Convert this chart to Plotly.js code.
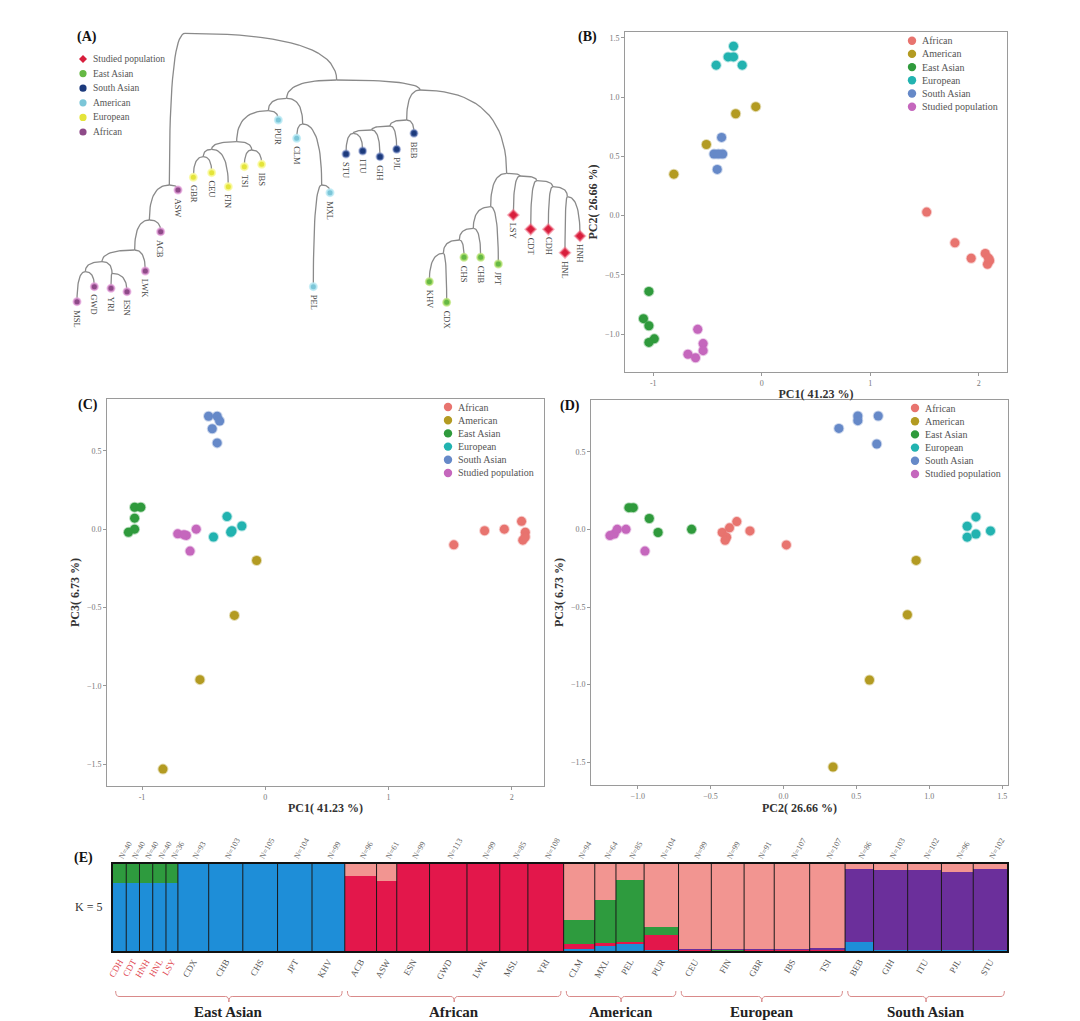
<!DOCTYPE html>
<html><head><meta charset="utf-8">
<script src="https://cdn.plot.ly/plotly-3.0.1.min.js"></script>
<style>html,body{margin:0;padding:0;background:#fff}#chart{width:1080px;height:1021px}</style>
</head><body><div id="chart"></div>
<script>
// ---------------- DATA ----------------
// (A) tree: internal nodes (layout units) and leaves
const treeNodeIds    = ['R','AF1','AF2','AF3','AF4','AF5','AF6','NA','EUAM','P1','EU','EUa','EUb','EUc','AM','AM2','ASIA','SA','SA2','SA3','SA4','ES','ST1','ST2','ST3','ST4','EA1','EA2','EA3','EA4'];
const treeNodeParent = [null,'R','AF1','AF2','AF3','AF4','AF4','R','NA','EUAM','P1','EU','EUa','EU','EUAM','AM','NA','ASIA','SA','SA2','SA3','ASIA','ES','ST1','ST2','ST3','ES','EA1','EA2','EA3'];
const treeNodeX      = [375,328,268,224,126,76,156,830,680,625,530,455,430,575,728,785,1080,1040,990,935,880,1340,1380,1430,1478,1522,1292,1240,1198,1150];
const treeNodeY      = [40,495,600,690,725,755,760,180,235,272,365,388,410,390,312,495,210,300,318,330,340,460,468,482,500,530,560,625,660,700];

const leafNames  = ['MSL','GWD','YRI','ESN','LWK','ACB','ASW','GBR','CEU','FIN','TSI','IBS','PUR','CLM','MXL','PEL','STU','ITU','GIH','PJL','BEB','KHV','CDX','CHS','CHB','JPT','LSY','CDT','CDH','HNL','HNH'];
const leafParent = ['AF5','AF5','AF6','AF6','AF3','AF2','AF1','EUb','EUb','EUa','EUc','EUc','P1','AM','AM2','AM2','SA4','SA4','SA3','SA2','SA','EA4','EA4','EA3','EA2','EA1','ST1','ST2','ST3','ST4','ST4'];
const leafX      = [51,103,153,201,256,302,354,400,455,505,553,605,655,710,810,760,858,908,960,1010,1062,1108,1160,1212,1262,1315,1360,1412,1465,1515,1560];
const leafY      = [845,800,805,815,753,635,510,472,458,500,440,433,300,355,518,800,402,393,410,388,340,785,847,712,712,732,585,628,628,698,648];
const leafGroup  = ['African','African','African','African','African','African','African',
  'European','European','European','European','European',
  'American','American','American','American',
  'South Asian','South Asian','South Asian','South Asian','South Asian',
  'East Asian','East Asian','East Asian','East Asian','East Asian',
  'Studied population','Studied population','Studied population','Studied population','Studied population'];
const treeLegendOrder = ['Studied population','East Asian','South Asian','American','European','African'];

// (B)-(D) PCA coordinates by group
const pcaGroups = ['African','American','East Asian','European','South Asian','Studied population'];
// (B) PC1 vs PC2
const pcB_African_x = [1.52,1.78,1.93,2.06,2.10,2.08,2.09];
const pcB_African_y = [0.03,-0.23,-0.36,-0.32,-0.38,-0.41,-0.36];
const pcB_American_x = [-0.055,-0.24,-0.51,-0.81];
const pcB_American_y = [0.92,0.86,0.60,0.35];
const pcB_EastAsian_x = [-1.04,-1.09,-1.04,-0.99,-1.04];
const pcB_EastAsian_y = [-0.64,-0.87,-0.93,-1.04,-1.07];
const pcB_European_x = [-0.26,-0.42,-0.31,-0.26,-0.18];
const pcB_European_y = [1.43,1.27,1.34,1.34,1.27];
const pcB_SouthAsian_x = [-0.37,-0.44,-0.36,-0.41,-0.40];
const pcB_SouthAsian_y = [0.66,0.52,0.52,0.39,0.52];
const pcB_Studied_x = [-0.59,-0.54,-0.54,-0.68,-0.61];
const pcB_Studied_y = [-0.96,-1.08,-1.14,-1.17,-1.20];
// (C) PC1 vs PC3
const pcC_African_x = [1.53,1.78,1.94,2.08,2.11,2.09,2.11];
const pcC_African_y = [-0.10,-0.01,0.0,0.05,-0.02,-0.07,-0.05];
const pcC_American_x = [-0.07,-0.25,-0.53,-0.83];
const pcC_American_y = [-0.20,-0.55,-0.96,-1.53];
const pcC_EastAsian_x = [-1.06,-1.01,-1.06,-1.06,-1.11];
const pcC_EastAsian_y = [0.14,0.14,0.07,0.0,-0.02];
const pcC_European_x = [-0.31,-0.42,-0.28,-0.19,-0.27];
const pcC_European_y = [0.08,-0.05,-0.02,0.02,-0.01];
const pcC_SouthAsian_x = [-0.46,-0.39,-0.37,-0.43,-0.39];
const pcC_SouthAsian_y = [0.72,0.72,0.69,0.64,0.55];
const pcC_Studied_x = [-0.71,-0.64,-0.56,-0.61,-0.66];
const pcC_Studied_y = [-0.03,-0.04,0.0,-0.14,-0.035];
// (D) PC2 vs PC3
const pcD_African_x = [-0.32,-0.37,-0.42,-0.39,-0.40,-0.23,0.02];
const pcD_African_y = [0.05,0.01,-0.02,-0.05,-0.07,-0.01,-0.10];
const pcD_American_x = [0.91,0.85,0.59,0.34];
const pcD_American_y = [-0.20,-0.55,-0.97,-1.53];
const pcD_EastAsian_x = [-1.06,-1.03,-0.92,-0.86,-0.63];
const pcD_EastAsian_y = [0.14,0.14,0.07,-0.02,0.0];
const pcD_European_x = [1.32,1.26,1.32,1.42,1.26];
const pcD_European_y = [0.08,0.02,-0.03,-0.01,-0.05];
const pcD_SouthAsian_x = [0.38,0.51,0.51,0.65,0.64];
const pcD_SouthAsian_y = [0.65,0.73,0.70,0.73,0.55];
const pcD_Studied_x = [-1.19,-1.16,-1.14,-1.08,-0.95];
const pcD_Studied_y = [-0.04,-0.03,0.0,0.0,-0.14];

// (E) ADMIXTURE K = 5, population means
const popNames = ['CDH','CDT','HNH','HNL','LSY','CDX','CHB','CHS','JPT','KHV','ACB','ASW','ESN','GWD','LWK','MSL','YRI','CLM','MXL','PEL','PUR','CEU','FIN','GBR','IBS','TSI','BEB','GIH','ITU','PJL','STU'];
const popN     = [40,40,40,40,36,93,103,105,104,99,96,61,99,113,99,85,108,94,64,85,104,99,99,91,107,107,86,103,102,96,102];
const popStudied = [true,true,true,true,true,false,false,false,false,false,false,false,false,false,false,false,false,false,false,false,false,false,false,false,false,false,false,false,false,false,false];
const compBlue   = [0.78,0.78,0.78,0.78,0.78,1,1,1,1,1,0,0,0,0,0,0,0,0.02,0.06,0.08,0.01,0,0,0,0,0,0.10,0.01,0.01,0.01,0.01];
const compRed    = [0,0,0,0,0,0,0,0,0,0,0.86,0.80,1,1,1,1,1,0.06,0.03,0.02,0.17,0.01,0.005,0.01,0.01,0.01,0,0,0,0,0];
const compGreen  = [0.22,0.22,0.22,0.22,0.22,0,0,0,0,0,0,0,0,0,0,0,0,0.28,0.50,0.72,0.10,0.005,0.005,0.005,0.005,0.005,0,0,0,0,0];
const compPurple = [0,0,0,0,0,0,0,0,0,0,0,0,0,0,0,0,0,0,0,0,0,0.01,0.01,0.01,0.01,0.015,0.84,0.92,0.92,0.90,0.93];
const compSalmon = [0,0,0,0,0,0,0,0,0,0,0.14,0.20,0,0,0,0,0,0.64,0.41,0.18,0.72,0.975,0.98,0.975,0.975,0.97,0.06,0.07,0.07,0.09,0.06];
const groupNames = ['East Asian','African','American','European','South Asian'];
const groupPopCount = [10,7,4,5,5];

// ---------------- STYLE ----------------
const W = 1080, H = 1021;
const SERIF = "'Liberation Serif', 'DejaVu Serif', serif";
const treeColors = {'Studied population':'#D81E3C','East Asian':'#66B944','South Asian':'#1C3A7C','American':'#7CC6D8','European':'#E4E43A','African':'#8E4A88'};
const treeHalo = {'Studied population':'rgba(240,120,140,0.55)','East Asian':'rgba(190,230,120,0.7)','South Asian':'rgba(120,140,200,0.5)','American':'rgba(190,235,245,0.8)','European':'rgba(250,250,160,0.8)','African':'rgba(230,160,220,0.7)'};
const pcaColors = {'African':'#E8746F','American':'#B39B22','East Asian':'#2F9A3C','European':'#22B3B0','South Asian':'#6689C8','Studied population':'#C567BD'};
const compColors = {blue:'#1E8ED8',red:'#E3174B',green:'#2E9B3E',purple:'#6B2F9B',salmon:'#F29591'};

const px = v => v / W;
const py = v => 1 - v / H;

const traces = [];
const annotations = [];
const shapes = [];

// legend key drawn as a small paper-space shape
function legendKey(cx, cy, r, color, diamond){
  if (diamond) {
    shapes.push({type:'path', xref:'paper', yref:'paper', fillcolor:color, line:{width:0},
      path:`M ${px(cx)},${py(cy-r)} L ${px(cx+r)},${py(cy)} L ${px(cx)},${py(cy+r)} L ${px(cx-r)},${py(cy)} Z`});
  } else {
    shapes.push({type:'circle', xref:'paper', yref:'paper', fillcolor:color, line:{width:0},
      x0:px(cx-r), x1:px(cx+r), y0:py(cy+r), y1:py(cy-r)});
  }
}

// ---------------- (A) TREE ----------------
const nodePos = {};
treeNodeIds.forEach((id,i)=>{ nodePos[id] = [treeNodeX[i], treeNodeY[i]]; });
function curve(p0, p1, xs, ys){
  const cx = p1[0], cy = p0[1];
  for (let i=0;i<=20;i++){
    const t=i/20;
    xs.push((1-t)*(1-t)*p0[0] + 2*(1-t)*t*cx + t*t*p1[0]);
    ys.push((1-t)*(1-t)*p0[1] + 2*(1-t)*t*cy + t*t*p1[1]);
  }
  xs.push(null); ys.push(null);
}
const ex=[], ey=[];
treeNodeIds.forEach((id,i)=>{ if (treeNodeParent[i]) curve(nodePos[treeNodeParent[i]], nodePos[id], ex, ey); });
leafNames.forEach((nm,i)=>{ curve(nodePos[leafParent[i]], [leafX[i], leafY[i]], ex, ey); });
traces.push({type:'scatter', mode:'lines', x:ex, y:ey, xaxis:'x', yaxis:'y',
  line:{color:'#8a8a8a', width:1.3}, hoverinfo:'skip', showlegend:false});

treeLegendOrder.forEach(g=>{
  const idx = leafNames.map((_,i)=>i).filter(i=>leafGroup[i]===g);
  traces.push({type:'scatter', mode:'markers', name:g, xaxis:'x', yaxis:'y',
    x: idx.map(i=>leafX[i]), y: idx.map(i=>leafY[i]), text: idx.map(i=>leafNames[i]),
    marker:{size: g==='Studied population'?8:7, symbol: g==='Studied population'?'diamond':'circle',
      color: treeColors[g], line:{color: treeHalo[g], width:2}},
    showlegend:false, hoverinfo:'text'});
});
leafNames.forEach((nm,i)=>{
  annotations.push({xref:'x', yref:'y', x:leafX[i], y:leafY[i], text:nm, showarrow:false,
    textangle:90, xanchor:'center', yanchor:'top', yshift:-6,
    font:{family:SERIF, size:8.5, color:'#444'}});
});
treeLegendOrder.forEach((g,i)=>{
  const yy = 59 + i*14.6;
  legendKey(83, yy, g==='Studied population'?4:3.6, treeColors[g], g==='Studied population');
  annotations.push({xref:'paper', yref:'paper', x:px(91), y:py(yy), text:g, showarrow:false,
    xanchor:'left', yanchor:'middle', font:{family:SERIF, size:9.5, color:'#555'}});
});

// ---------------- (B)(C)(D) PCA ----------------
const pcaSets = {
  B: {African:[pcB_African_x,pcB_African_y], American:[pcB_American_x,pcB_American_y], 'East Asian':[pcB_EastAsian_x,pcB_EastAsian_y],
      European:[pcB_European_x,pcB_European_y], 'South Asian':[pcB_SouthAsian_x,pcB_SouthAsian_y], 'Studied population':[pcB_Studied_x,pcB_Studied_y]},
  C: {African:[pcC_African_x,pcC_African_y], American:[pcC_American_x,pcC_American_y], 'East Asian':[pcC_EastAsian_x,pcC_EastAsian_y],
      European:[pcC_European_x,pcC_European_y], 'South Asian':[pcC_SouthAsian_x,pcC_SouthAsian_y], 'Studied population':[pcC_Studied_x,pcC_Studied_y]},
  D: {African:[pcD_African_x,pcD_African_y], American:[pcD_American_x,pcD_American_y], 'East Asian':[pcD_EastAsian_x,pcD_EastAsian_y],
      European:[pcD_European_x,pcD_European_y], 'South Asian':[pcD_SouthAsian_x,pcD_SouthAsian_y], 'Studied population':[pcD_Studied_x,pcD_Studied_y]}
};
const pcaAxes = {B:['x2','y2'], C:['x3','y3'], D:['x4','y4']};
function hexToRgba(h,a){const n=parseInt(h.slice(1),16);return `rgba(${n>>16},${(n>>8)&255},${n&255},${a})`;}
Object.keys(pcaSets).forEach(p=>{
  pcaGroups.forEach(g=>{
    const d = pcaSets[p][g];
    traces.push({type:'scatter', mode:'markers', name:g, x:d[0], y:d[1], xaxis:pcaAxes[p][0], yaxis:pcaAxes[p][1],
      marker:{size:9, color:pcaColors[g], line:{color:hexToRgba(pcaColors[g],0.35), width:2}},
      showlegend:false, hoverinfo:'x+y+name'});
  });
});
// legends (B), (C), (D)
const pcaLegendPos = {B:[912,40.7], C:[448,407], D:[915,408]};
Object.keys(pcaLegendPos).forEach(p=>{
  const [lx, ly] = pcaLegendPos[p];
  pcaGroups.forEach((g,i)=>{
    const yy = ly + i*13.2;
    legendKey(lx, yy, 4.2, pcaColors[g], false);
    annotations.push({xref:'paper', yref:'paper', x:px(lx+8), y:py(yy), text:g, showarrow:false,
      xanchor:'left', yanchor:'middle', font:{family:SERIF, size:10, color:'#555'}});
  });
});

// ---------------- (E) ADMIXTURE ----------------
const popStart = [], popCenter = [];
let acc = 0;
popN.forEach(n=>{ popStart.push(acc); popCenter.push(acc + n/2); acc += n; });
const totalN = acc;
const comps = [['blue',compBlue],['red',compRed],['green',compGreen],['purple',compPurple],['salmon',compSalmon]];
comps.forEach(([c,vals])=>{
  traces.push({type:'bar', x:popCenter, y:vals, width:popN, xaxis:'x5', yaxis:'y5',
    marker:{color:compColors[c], line:{width:0}}, name:c, showlegend:false, hoverinfo:'y'});
});
// population separators
const sx=[], sy=[];
popStart.slice(1).forEach(s=>{ sx.push(s,s,null); sy.push(0,1,null); });
traces.push({type:'scatter', mode:'lines', x:sx, y:sy, xaxis:'x5', yaxis:'y5',
  line:{color:'#1a1a1a', width:1}, hoverinfo:'skip', showlegend:false});
// invisible trace for the top (N=) axis
traces.push({type:'scatter', mode:'markers', x:popCenter, y:popCenter.map(()=>0.5), xaxis:'x6', yaxis:'y5',
  marker:{opacity:0}, hoverinfo:'skip', showlegend:false});

// braces and group labels
let pIdx = 0;
const yTop = py(991), yMid = py(996.5), yTip = py(1002);
groupNames.forEach((g,gi)=>{
  const a = popStart[pIdx];
  const last = pIdx + groupPopCount[gi] - 1;
  const b = popStart[last] + popN[last];
  pIdx += groupPopCount[gi];
  const gap = 8, d = 10;
  const x0 = a + gap, x1 = b - gap, xm = (a + b) / 2;
  shapes.push({type:'path', xref:'x5', yref:'paper', line:{color:'#D98A8A', width:1},
    path:`M ${x0},${yTop} Q ${x0},${yMid} ${x0+d},${yMid} L ${xm-d},${yMid} Q ${xm},${yMid} ${xm},${yTip} Q ${xm},${yMid} ${xm+d},${yMid} L ${x1-d},${yMid} Q ${x1},${yMid} ${x1},${yTop}`});
  annotations.push({xref:'x5', yref:'paper', x:xm, y:py(1012), text:'<b>'+g+'</b>', showarrow:false,
    xanchor:'center', yanchor:'middle', font:{family:SERIF, size:15, color:'#222'}});
});

// panel labels
[['(A)',87,37],['(B)',587,37],['(C)',88,405],['(D)',570,406],['(E)',83,858]].forEach(([t,x,y])=>{
  annotations.push({xref:'paper', yref:'paper', x:px(x), y:py(y), text:'<b>'+t+'</b>', showarrow:false,
    xanchor:'center', yanchor:'middle', font:{family:SERIF, size:14, color:'#111'}});
});
annotations.push({xref:'paper', yref:'paper', x:px(88), y:py(907), text:'K = 5', showarrow:false,
  xanchor:'center', yanchor:'middle', font:{family:SERIF, size:12, color:'#333'}});

// ---------------- AXES ----------------
const pcaAxisBase = {showline:true, mirror:true, linecolor:'#9a9a9a', linewidth:1, ticks:'outside', ticklen:3,
  tickcolor:'#999', tickfont:{family:SERIF, size:8, color:'#777'}, showgrid:false, zeroline:false, fixedrange:true};
const titleFont = {family:SERIF, size:12, color:'#333'};
const hidden = {visible:false, showgrid:false, zeroline:false, fixedrange:true};

const layout = {
  width:W, height:H, autosize:false, margin:{l:0,r:0,t:0,b:0},
  paper_bgcolor:'#fff', plot_bgcolor:'rgba(0,0,0,0)', showlegend:false, barmode:'stack', bargap:0,
  xaxis: Object.assign({domain:[px(60), px(600)], range:[0,1620], anchor:'y'}, hidden),
  yaxis: Object.assign({domain:[py(345), py(20)], range:[975,0], anchor:'x'}, hidden),

  xaxis2: Object.assign({}, pcaAxisBase, {domain:[px(625), px(1007)], range:[-1.26,2.26], anchor:'y2', tickvals:[-1,0,1,2], ticktext:['-1','0','1','2'],
    title:{text:'<b>PC1( 41.23 %)</b>', font:titleFont, standoff:3}}),
  yaxis2: Object.assign({}, pcaAxisBase, {domain:[py(372), py(32)], range:[-1.32,1.55], anchor:'x2', dtick:0.5, tickformat:'.1f',
    title:{text:'<b>PC2( 26.66 %)</b>', font:titleFont, standoff:4}}),

  xaxis3: Object.assign({}, pcaAxisBase, {domain:[px(107), px(544)], range:[-1.284,2.262], anchor:'y3', tickvals:[-1,0,1,2], ticktext:['-1','0','1','2'],
    title:{text:'<b>PC1( 41.23 %)</b>', font:titleFont, standoff:3}}),
  yaxis3: Object.assign({}, pcaAxisBase, {domain:[py(786), py(399)], range:[-1.638,0.83], anchor:'x3', dtick:0.5, tickformat:'.1f',
    title:{text:'<b>PC3( 6.73 %)</b>', font:titleFont, standoff:4}}),

  xaxis4: Object.assign({}, pcaAxisBase, {domain:[px(591), px(1008)], range:[-1.32,1.54], anchor:'y4', dtick:0.5, tickformat:'.1f',
    title:{text:'<b>PC2( 26.66 %)</b>', font:titleFont, standoff:3}}),
  yaxis4: Object.assign({}, pcaAxisBase, {domain:[py(785), py(400)], range:[-1.646,0.833], anchor:'x4', dtick:0.5, tickformat:'.1f',
    title:{text:'<b>PC3( 6.73 %)</b>', font:titleFont, standoff:4}}),

  xaxis5: {domain:[px(113), px(1007)], range:[0,totalN], anchor:'y5', showline:true, mirror:true, linecolor:'#111', linewidth:2,
    showgrid:false, zeroline:false, ticks:'', tickvals:popCenter, tickangle:-60, fixedrange:true,
    ticktext: popNames.map((n,i)=> popStudied[i] ? `<span style="color:#E0464F">${n}</span>` : n),
    tickfont:{family:SERIF, size:9, color:'#555'}},
  yaxis5: {domain:[py(951), py(864)], range:[0,1], anchor:'x5', showline:true, mirror:true, linecolor:'#111', linewidth:2,
    showgrid:false, zeroline:false, showticklabels:false, ticks:'', fixedrange:true},
  xaxis6: {overlaying:'x5', anchor:'y5', side:'top', range:[0,totalN], showline:false, showgrid:false, zeroline:false,
    ticks:'', tickvals:popCenter, ticktext:popN.map(n=>'N='+n), tickangle:-60, fixedrange:true,
    tickfont:{family:SERIF, size:8, color:'#666'}},

  annotations: annotations,
  shapes: shapes
};

Plotly.newPlot('chart', traces, layout, {displayModeBar:false, staticPlot:true});
</script>
</body></html>
